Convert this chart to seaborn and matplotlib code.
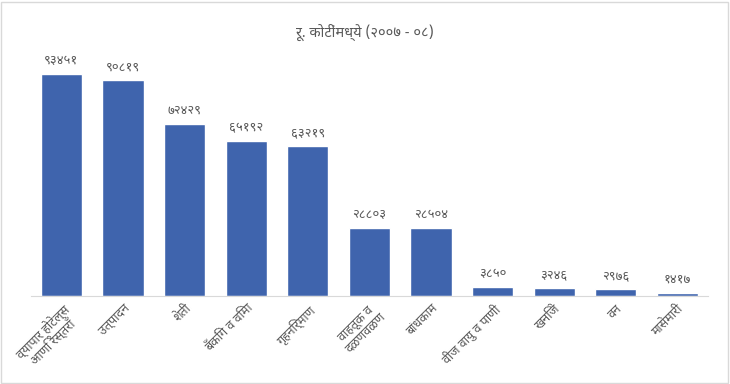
import matplotlib
matplotlib.use("Agg")
import matplotlib.pyplot as plt
import seaborn as sns
from matplotlib.patches import Rectangle

sns.set_style("white")
plt.rcParams['font.family'] = ['Noto Sans Devanagari', 'DejaVu Sans']

# data (रू. कोटीमा)
sectors = ["व्यापार होटेल्स\nआणि रेस्तराँ", "उत्पादन", "शेती", "बँकिंग व विमा",
           "गृहनिर्माण", "वाहतूक व\nदळणवळण", "बांधकाम", "वीज वायु व पाणी",
           "खनिजे", "वन", "मासेमारी"]
values = [93451, 90819, 72429, 65192, 63219, 28803, 28504, 3850, 3246, 2976, 1417]
value_labels = ["९३४५१", "९०८१९", "७२४२९", "६५१९२", "६३२१९", "२८८०३",
                "२८५०४", "३८५०", "३२४६", "२९७६", "१४१७"]
title = "रू. कोटींमध्ये (२००७ - ०८)"

grey = "#595959"
blue = "#3F64AD"

fig = plt.figure(figsize=(7.3, 3.84), dpi=100)
ax = fig.add_axes([0.042, 0.229, 0.928, 0.619])

sns.barplot(x=sectors, y=values, color=blue, width=0.67, saturation=1, ax=ax)
ax.bar_label(ax.containers[0], labels=value_labels, padding=5, fontsize=9.5, color=grey)

ax.set_ylim(0, 100000)
ax.set_xlim(-0.5, len(sectors) - 0.5)
ax.set_yticks([])
ax.set_ylabel("")
for s in ["top", "right", "left"]:
    ax.spines[s].set_visible(False)
ax.spines["bottom"].set_color("#d9d9d9")
ax.tick_params(axis="x", length=0, pad=4)
plt.setp(ax.get_xticklabels(), rotation=45, ha="right", rotation_mode="anchor",
         multialignment="center", fontsize=9, color=grey, linespacing=0.95)

fig.text(0.5, 0.915, title, ha="center", va="center", fontsize=10.5,
         color=grey, fontweight="medium")

# light frame around the chart
fig.add_artist(Rectangle((0.002, 0.003), 0.995, 0.993, transform=fig.transFigure,
                         fill=False, edgecolor="#d9d9d9", linewidth=1))

fig.savefig("out.png", dpi=100)
